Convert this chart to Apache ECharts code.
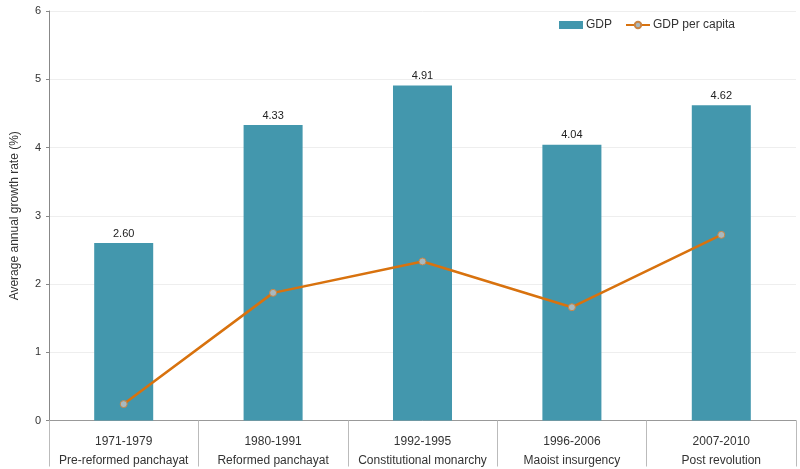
<!DOCTYPE html>
<html>
<head>
<meta charset="utf-8">
<script src="https://cdn.jsdelivr.net/npm/echarts@6/dist/echarts.min.js"></script>
<style>
html,body{margin:0;padding:0;background:#fff;}
#chart{width:800px;height:469px;}
</style>
</head>
<body>
<div id="chart"></div>
<script>
var periods = ['1971-1979', '1980-1991', '1992-1995', '1996-2006', '2007-2010'];
var eras = ['Pre-reformed panchayat', 'Reformed panchayat', 'Constitutional monarchy', 'Maoist insurgency', 'Post revolution'];
var gdp = [2.60, 4.33, 4.91, 4.04, 4.62];
var gdpPerCapita = [0.24, 1.87, 2.33, 1.66, 2.72];
var yTicks = [0, 1, 2, 3, 4, 5, 6];

var categories = periods.map(function (p, i) { return p + '\n' + eras[i]; });

var chart = echarts.init(document.getElementById('chart'));
chart.setOption({
  animation: false,
  textStyle: { fontFamily: '"Liberation Sans", Arial, sans-serif' },
  legend: {
    top: 14,
    left: 554,
    itemWidth: 24,
    itemHeight: 8,
    itemGap: 13,
    textStyle: { fontSize: 12, color: '#333', padding: [0, 0, 0, -2], fontFamily: '"Liberation Sans", Arial, sans-serif' },
    data: [
      { name: 'GDP', icon: 'rect' },
      { name: 'GDP per capita' }
    ]
  },
  grid: { left: 49, right: 4, top: 11, bottom: 48.5, containLabel: false, outerBoundsMode: 'none' },
  xAxis: {
    type: 'category',
    data: categories,
    boundaryGap: true,
    axisLine: { show: true, lineStyle: { color: '#999', width: 1 } },
    axisTick: { show: true, interval: 0, length: 46, lineStyle: { color: '#bbb' } },
    axisLabel: {
      interval: 0,
      margin: 12,
      color: '#333',
      fontSize: 12,
      lineHeight: 19,
      fontFamily: '"Liberation Sans", Arial, sans-serif'
    },
    splitLine: { show: false }
  },
  yAxis: {
    type: 'value',
    min: yTicks[0],
    max: yTicks[yTicks.length - 1],
    interval: 1,
    name: 'Average annual growth rate (%)',
    nameLocation: 'middle',
    nameGap: 28,
    nameTextStyle: { color: '#333', fontSize: 12, fontFamily: '"Liberation Sans", Arial, sans-serif' },
    axisLine: { show: true, lineStyle: { color: '#888' } },
    axisTick: { show: true, length: 3, lineStyle: { color: '#888' } },
    axisLabel: { color: '#333', fontSize: 11, margin: 8 },
    splitLine: { show: true, lineStyle: { color: '#eeeeee' } }
  },
  series: [
    {
      name: 'GDP',
      type: 'bar',
      data: gdp,
      barWidth: '39.5%',
      itemStyle: { color: '#4397ad' },
      label: {
        show: true,
        position: 'top',
        distance: 4,
        color: '#222',
        fontSize: 11,
        formatter: function (p) { return p.value.toFixed(2); }
      }
    },
    {
      name: 'GDP per capita',
      type: 'line',
      data: gdpPerCapita,
      symbol: 'circle',
      symbolSize: 7,
      lineStyle: { color: '#d8720e', width: 2.5 },
      itemStyle: { color: '#a9b9bf', borderColor: '#c98545', borderWidth: 1 },
      z: 3
    }
  ]
});
</script>
</body>
</html>
